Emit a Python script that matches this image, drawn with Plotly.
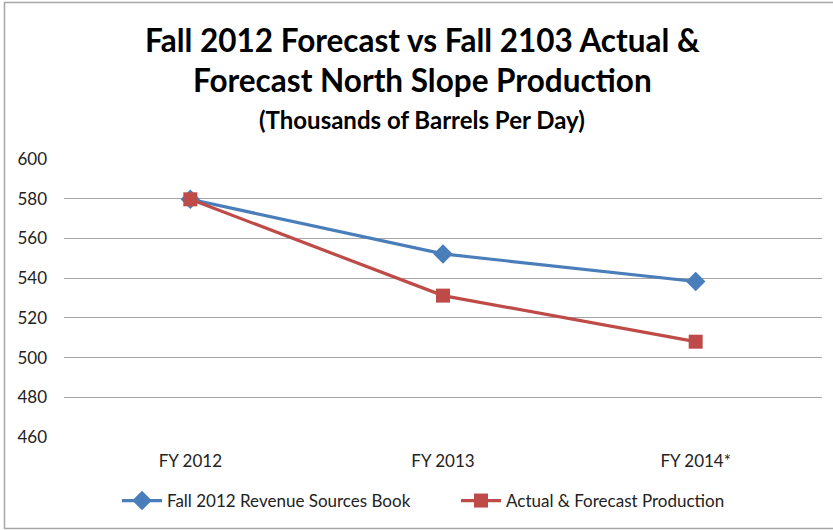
import plotly.graph_objects as go

categories = ["FY 2012", "FY 2013", "FY 2014*"]
fall2012_book = [579.7, 552.2, 538.3]
actual_forecast = [579.7, 531.2, 508.0]
y_ticks = [460, 480, 500, 520, 540, 560, 580, 600]

W, H = 833, 530
ml, mr, mt, mb = 64, 11, 159, 93
pw, ph = W - ml - mr, H - mt - mb

FONT = "Lato, Open Sans, sans-serif"

fig = go.Figure()
fig.add_trace(go.Scatter(
    x=[0, 1, 2], y=fall2012_book, mode="lines+markers",
    name="Fall 2012 Revenue Sources Book",
    line=dict(color="#4A7EBB", width=3.2),
    marker=dict(symbol="diamond", size=15, color="#4A7EBB"),
))
fig.add_trace(go.Scatter(
    x=[0, 1, 2], y=actual_forecast, mode="lines+markers",
    name="Actual & Forecast Production",
    line=dict(color="#BE4B48", width=3.2),
    marker=dict(symbol="square", size=14, color="#BE4B48"),
))

def px_x(p):
    return (p - ml) / pw

def px_y(p):
    return (H - mb - p) / ph

fig.add_shape(type="rect", xref="paper", yref="paper",
              x0=px_x(4.5), x1=px_x(845), y0=px_y(528.5), y1=px_y(2.5),
              line=dict(color="#A6A6A6", width=1.5), fillcolor="rgba(0,0,0,0)")

fig.add_annotation(xref="paper", yref="paper", x=px_x(422), y=px_y(40),
                   text="<b>Fall 2012 Forecast vs Fall 2103 Actual &amp;</b>",
                   showarrow=False, font=dict(family=FONT, size=31.5, color="#000"),
                   xanchor="center", yanchor="middle")
fig.add_annotation(xref="paper", yref="paper", x=px_x(422), y=px_y(80),
                   text="<b>Forecast North Slope Production</b>",
                   showarrow=False, font=dict(family=FONT, size=31.5, color="#000"),
                   xanchor="center", yanchor="middle")
fig.add_annotation(xref="paper", yref="paper", x=px_x(422), y=px_y(119),
                   text="<b>(Thousands of Barrels Per Day)</b>",
                   showarrow=False, font=dict(family=FONT, size=24, color="#000"),
                   xanchor="center", yanchor="middle")

fig.update_layout(
    width=W, height=H,
    margin=dict(l=ml, r=mr, t=mt, b=mb),
    paper_bgcolor="white", plot_bgcolor="white",
    font=dict(family=FONT, size=16, color="#000"),
    showlegend=True,
    legend=dict(orientation="h", x=px_x(117), xanchor="left", y=px_y(501), yanchor="middle",
                font=dict(family=FONT, size=17, color="#222"), itemwidth=40,
                entrywidth=284, entrywidthmode="pixels",
                bgcolor="rgba(0,0,0,0)"),
    xaxis=dict(range=[-0.5, 2.5], tickvals=[0, 1, 2], ticktext=categories,
               showgrid=False, zeroline=False, showline=False, ticks="",
               ticklabelstandoff=12,
               tickfont=dict(size=17, color="#222"), fixedrange=True),
    yaxis=dict(range=[460, 600], tickvals=y_ticks, showgrid=True,
               gridcolor="#A6A6A6", gridwidth=1.2, zeroline=False, showline=False,
               ticks="", ticklabelstandoff=16, tickfont=dict(size=17, color="#222"),
               fixedrange=True),
)

fig.write_html("out.html", config={"displayModeBar": False},
               post_script="document.body.style.margin='0';")
